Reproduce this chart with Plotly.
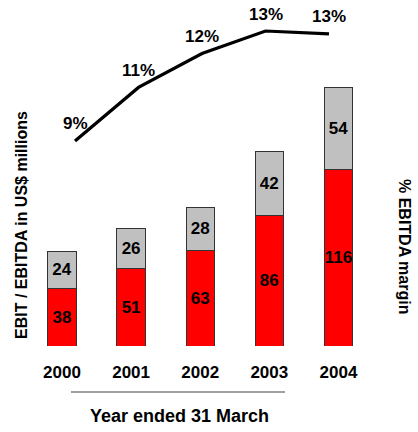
import plotly.graph_objects as go

years = ["2000", "2001", "2002", "2003", "2004"]
ebit = [38, 51, 63, 86, 116]
dep_amort = [24, 26, 28, 42, 54]
ebitda_margin = [9.1, 11.0, 12.2, 13.0, 12.9]

W, H = 418, 432
FONT = "Liberation Sans, Arial, sans-serif"

fig = go.Figure()
fig.add_trace(go.Bar(
    x=years, y=ebit, text=[str(v) for v in ebit],
    marker=dict(color="#FF0000", line=dict(color="#333333", width=1)),
    textposition="inside", insidetextanchor="middle", constraintext="none",
    textangle=0,
    textfont=dict(family=FONT, size=17, color="black", weight="bold"),
    xaxis="x", yaxis="y", showlegend=False, hoverinfo="skip",
))
fig.add_trace(go.Bar(
    x=years, y=dep_amort, text=[str(v) for v in dep_amort],
    marker=dict(color="#C0C0C0", line=dict(color="#333333", width=1)),
    textposition="inside", insidetextanchor="middle", constraintext="none",
    textangle=0,
    textfont=dict(family=FONT, size=17, color="black", weight="bold"),
    xaxis="x", yaxis="y", showlegend=False, hoverinfo="skip",
))
fig.add_trace(go.Scatter(
    x=years, y=ebitda_margin, mode="lines",
    line=dict(color="black", width=3.2), cliponaxis=False,
    xaxis="x2", yaxis="y2", showlegend=False, hoverinfo="skip",
))

annotations = []
for i, m in enumerate(ebitda_margin):
    annotations.append(dict(
        x=i, y=m, xref="x2", yref="y2", text=f"<b>{round(m)}%</b>",
        showarrow=False, yshift=17, xanchor="center", yanchor="middle",
        font=dict(family=FONT, size=17, color="black"),
    ))

annotations += [
    dict(x=21 / W, y=1 - 225 / H, xref="paper", yref="paper",
         text="<b>EBIT / EBITDA in US$ millions</b>", textangle=-90, showarrow=False,
         font=dict(family=FONT, size=16, color="black"),
         xanchor="center", yanchor="middle"),
    dict(x=405 / W, y=1 - 246 / H, xref="paper", yref="paper",
         text="<b>% EBITDA margin</b>", textangle=90, showarrow=False,
         font=dict(family=FONT, size=16, color="black"),
         xanchor="center", yanchor="middle"),
    dict(x=179 / W, y=1 - 416 / H, xref="paper", yref="paper",
         text="<b>Year ended 31 March</b>", showarrow=False,
         font=dict(family=FONT, size=18, color="black"),
         xanchor="center", yanchor="middle"),
]

fig.update_layout(
    width=W, height=H,
    margin=dict(l=0, r=0, t=0, b=0),
    paper_bgcolor="white", plot_bgcolor="rgba(0,0,0,0)",
    barmode="stack", bargap=0.59,
    xaxis=dict(domain=[27.4 / W, 373 / W], range=[-0.5, 4.5], type="category",
               showgrid=False, zeroline=False, showline=False,
               ticks="outside", ticklen=11, tickcolor="rgba(0,0,0,0)",
               tickfont=dict(family=FONT, size=17, color="black", weight="bold"),
               anchor="y"),
    yaxis=dict(domain=[1 - 346 / H, 1], range=[0, 227.6], visible=False,
               anchor="x"),
    xaxis2=dict(domain=[43.25 / W, 360.75 / W], range=[-0.5, 4.5],
                type="category", visible=False, anchor="y2"),
    yaxis2=dict(domain=[1 - 346 / H, 1], range=[1.83, 14.1], visible=False,
                anchor="x2"),
    annotations=annotations,
    shapes=[dict(type="line", xref="paper", yref="paper",
                 x0=71 / W, x1=285 / W, y0=1 - 392 / H, y1=1 - 392 / H,
                 line=dict(color="#808080", width=1.5))],
)

fig.write_html("out.html")
